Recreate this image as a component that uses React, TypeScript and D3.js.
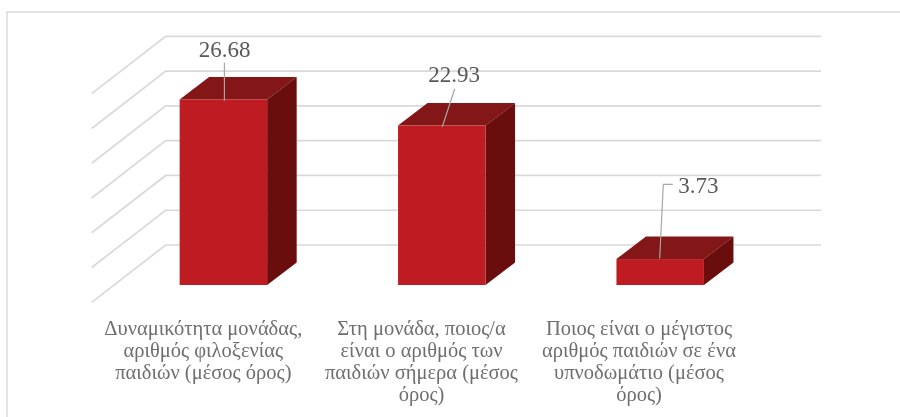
import React from "react";
import * as d3 from "d3";

const categories = [
  ["Δυναμικότητα μονάδας,", "αριθμός φιλοξενίας", "παιδιών (μέσος όρος)"],
  ["Στη μονάδα, ποιος/α", "είναι ο αριθμός των", "παιδιών σήμερα (μέσος", "όρος)"],
  ["Ποιος είναι ο μέγιστος", "αριθμός παιδιών σε ένα", "υπνοδωμάτιο (μέσος", "όρος)"],
];
const values = [26.68, 22.93, 3.73];
const valueLabels = ["26.68", "22.93", "3.73"];
const gridTicks = [0, 5, 10, 15, 20, 25, 30];

const W = 900, H = 417;
const serif = "'Liberation Serif', 'Times New Roman', serif";
const keys = categories.map((_, i) => String(i));

export default function App() {
  const h = d3.scaleLinear().domain([0, 30]).range([0, 208.6]);
  const x = d3.scaleBand().domain(keys).range([114.2, 769.4]).paddingInner(0).paddingOuter(0);
  const barW = 87.5;
  const floorBack = { y: 245, x0: 165.7, x1: 821 };
  const floorFront = { y: 302.3, x0: 91.7 };
  const baseY = 285, dx = 29.5, dy = 22.5;
  const leaders: [number, number][][] = [
    [[224.4, 62.7], [224.4, 100.5]],
    [[454.7, 89], [442.3, 126.7]],
    [[672.7, 184.3], [663.3, 184.3], [659.7, 258.5]],
  ];
  const labelPos: [number, number][] = [[224.5, 56.7], [454, 81.5], [698.3, 193]];
  return (
    <svg width={W} height={H} style={{ position: "absolute", left: 0, top: 0, display: "block" }}>
      <defs>
        <filter id="soft" x="-5%" y="-5%" width="110%" height="110%">
          <feGaussianBlur stdDeviation="0.5" />
        </filter>
      </defs>
      <rect width={W} height={H} fill="#ffffff" />
      <g filter="url(#soft)">
        <path d={`M7 ${H + 5}V12H${W + 5}`} fill="none" stroke="#d9d9d9" strokeWidth={1.4} />
        {gridTicks.map((t) => {
          const yb = floorBack.y - h(t);
          const yf = floorFront.y - h(t);
          return (
            <path
              key={t}
              d={`M${floorFront.x0} ${yf}L${floorBack.x0} ${yb}H${floorBack.x1}`}
              fill="none"
              stroke="#d9d9d9"
              strokeWidth={1.7}
            />
          );
        })}
        {values.map((v, i) => {
          const left = x(keys[i])! + (x.bandwidth() - barW) / 2;
          const right = left + barW;
          const top = baseY - h(v);
          return (
            <g key={i}>
              <path
                d={`M${left} ${top}L${left + dx} ${top - dy}H${right + dx}L${right} ${top}Z`}
                fill="#831213"
              />
              <path
                d={`M${right} ${top}L${right + dx} ${top - dy}V${baseY - dy}L${right} ${baseY}Z`}
                fill="#6a0909"
              />
              <rect x={left} y={top} width={barW} height={baseY - top} fill="#be1e22" />
            </g>
          );
        })}
        {leaders.map((pts, i) => (
          <path
            key={i}
            d={d3.line()(pts)!}
            fill="none"
            stroke="#a6a6a6"
            strokeWidth={1.2}
          />
        ))}
        {valueLabels.map((s, i) => (
          <text
            key={i}
            x={labelPos[i][0]}
            y={labelPos[i][1]}
            textAnchor="middle"
            fontFamily={serif}
            fontSize={23}
            fill="#595959"
          >
            {s}
          </text>
        ))}
        {categories.map((lines, i) =>
          lines.map((l, j) => (
            <text
              key={j}
              x={[203.3, 421.5, 639][i]}
              y={334.5 + j * 22.3}
              textAnchor="middle"
              fontFamily={serif}
              fontSize={20.5}
              fill="#6e6e6e"
            >
              {l}
            </text>
          ))
        )}
      </g>
    </svg>
  );
}
